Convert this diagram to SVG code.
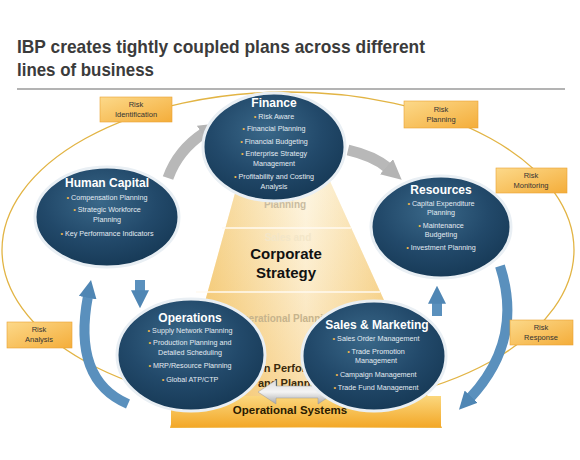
<svg xmlns="http://www.w3.org/2000/svg" width="580" height="460" viewBox="0 0 580 460">
<defs>
<radialGradient id="eg" cx="45%" cy="35%" r="65%">
<stop offset="0" stop-color="#3a6889"/>
<stop offset="0.6" stop-color="#22496a"/>
<stop offset="1" stop-color="#173a57"/>
</radialGradient>
<linearGradient id="pg" x1="0" y1="0" x2="1" y2="0">
<stop offset="0" stop-color="#f0b846"/>
<stop offset="0.5" stop-color="#fdf4dc"/>
<stop offset="1" stop-color="#f0b846"/>
</linearGradient>
<linearGradient id="pv" x1="0" y1="0" x2="0" y2="1">
<stop offset="0" stop-color="#ffffff" stop-opacity="0.25"/>
<stop offset="1" stop-color="#f0a830" stop-opacity="0.35"/>
</linearGradient>
<linearGradient id="og" x1="0" y1="0" x2="0" y2="1">
<stop offset="0" stop-color="#fbd77e"/>
<stop offset="1" stop-color="#f3a828"/>
</linearGradient>
<linearGradient id="rb" x1="0" y1="0" x2="1" y2="1">
<stop offset="0" stop-color="#fcd98a"/>
<stop offset="1" stop-color="#f4ad3a"/>
</linearGradient>
<linearGradient id="ga" x1="0" y1="0" x2="0" y2="1">
<stop offset="0" stop-color="#dcdcdc"/>
<stop offset="0.5" stop-color="#f4f4f4"/>
<stop offset="1" stop-color="#a8a8a8"/>
</linearGradient>
<marker id="hb" viewBox="0 0 10 10" refX="1" refY="5" markerWidth="18" markerHeight="18" markerUnits="userSpaceOnUse" orient="auto">
<path d="M0,0 L10,5 L0,10 z" fill="#4f86b4"/>
</marker>
<marker id="hg" viewBox="0 0 10 10" refX="1" refY="5" markerWidth="20" markerHeight="20" markerUnits="userSpaceOnUse" orient="auto">
<path d="M0,0 L10,5 L0,10 z" fill="#b4b4b4"/>
</marker>
<style>
.title{font-family:"Liberation Sans",Arial,sans-serif;font-weight:bold;font-size:19px;fill:#3b3b3b}
.node{fill:url(#eg);stroke:#e9eff4;stroke-width:3}
.nt{font-family:"Liberation Sans",Arial,sans-serif;font-weight:bold;font-size:12px;fill:#ffffff;text-anchor:middle}
.it{font-family:"Liberation Sans",Arial,sans-serif;font-size:7.2px;fill:#e3ebf2;text-anchor:middle}
.bu{fill:#f2b84b}
.rbox{fill:url(#rb);stroke:#e9a232;stroke-width:0.6}
.rt{font-family:"Liberation Sans",Arial,sans-serif;font-size:7.5px;fill:#333333;text-anchor:middle}
.band{font-family:"Liberation Sans",Arial,sans-serif;font-weight:bold;text-anchor:middle}
.bl{font-family:"Liberation Sans",Arial,sans-serif;font-weight:bold;font-size:11px;fill:#3a2a0c}
.blue{fill:none;stroke:#5a90bd;stroke-width:10}
.gray{fill:none;stroke:#b8b8b8;stroke-width:11}
</style>
</defs>
<rect width="580" height="460" fill="#ffffff"/>
<g id="title">
<text class="title" x="17" y="53" textLength="408" lengthAdjust="spacingAndGlyphs">IBP creates tightly coupled plans across different</text>
<text class="title" x="17" y="76" textLength="137" lengthAdjust="spacingAndGlyphs">lines of business</text>
<line x1="17" y1="89" x2="565" y2="89" stroke="#9a9a9a" stroke-width="1.5"/>
</g>
<g id="risk-cycle">
<ellipse cx="288" cy="250" rx="286" ry="158" fill="none" stroke="#e2b444" stroke-width="1.3"/>
</g>
<g id="pyramid">
<path d="M242,168 L324,168 L442,428 L170,428 Z" fill="url(#pg)"/>
<path d="M242,168 L324,168 L442,428 L170,428 Z" fill="url(#pv)"/>
<line x1="222" y1="228" x2="351" y2="228" stroke="#fffaf0" stroke-width="1.5"/>
<line x1="196" y1="292" x2="380" y2="292" stroke="#fffaf0" stroke-width="1.5"/>
<text class="band" x="285" y="208" font-size="10" fill="#c9bba0">Planning</text>
<text class="band" x="288" y="241" font-size="10" fill="#f3e6c8">Sales and</text>
<text class="band" x="286" y="259" font-size="15" fill="#111111">Corporate</text>
<text class="band" x="286" y="278" font-size="15" fill="#111111">Strategy</text>
<text class="band" x="285" y="322" font-size="10" fill="#c6b38c">Operational Planning</text>
<text class="bl" x="218" y="372">Execution Performance</text>
<text class="bl" x="258" y="387">and Planning</text>
<rect x="171" y="396" width="270" height="31" fill="url(#og)"/>
<text class="band" x="290" y="414" font-size="11.5" fill="#2a1a00">Operational Systems</text>
</g>
<g id="connectors">
<path d="M258,392 L276,380 L276,386 L318,386 L318,380 L336,392 L318,404 L318,398 L276,398 L276,404 Z" fill="url(#ga)" stroke="#999999" stroke-width="0.5"/>
<path class="gray" d="M168,178 Q178,150 204,133" marker-end="url(#hg)"/>
<path class="gray" d="M348,150 Q374,156 388,168" marker-end="url(#hg)"/>
<path class="blue" d="M128,404 Q72,380 88,296" marker-end="url(#hb)"/>
<path class="blue" d="M500,266 Q524,340 470,398" marker-end="url(#hb)"/>
<path class="blue" d="M140,280 L140,292" marker-end="url(#hb)"/>
<path class="blue" d="M437,316 L437,302" marker-end="url(#hb)"/>
</g>
<g id="finance">
<ellipse class="node" cx="274" cy="147" rx="71" ry="54"/>
<text class="nt" x="274" y="107">Finance</text>
<text class="it" x="274" y="119"><tspan class="bu">•  </tspan>Risk Aware</text>
<text class="it" x="274" y="131"><tspan class="bu">•  </tspan>Financial Planning</text>
<text class="it" x="274" y="144"><tspan class="bu">•  </tspan>Financial Budgeting</text>
<text class="it" x="274" y="156"><tspan class="bu">•  </tspan>Enterprise Strategy</text>
<text class="it" x="274" y="166">Management</text>
<text class="it" x="274" y="179"><tspan class="bu">•  </tspan>Profitability and Costing</text>
<text class="it" x="274" y="189">Analysis</text>
</g>
<g id="human-capital">
<ellipse class="node" cx="107" cy="217" rx="72" ry="50"/>
<text class="nt" x="107" y="187">Human Capital</text>
<text class="it" x="107" y="200"><tspan class="bu">•  </tspan>Compensation Planning</text>
<text class="it" x="107" y="212"><tspan class="bu">•  </tspan>Strategic Workforce</text>
<text class="it" x="107" y="222">Planning</text>
<text class="it" x="107" y="236"><tspan class="bu">•  </tspan>Key Performance Indicators</text>
</g>
<g id="resources">
<ellipse class="node" cx="441" cy="227" rx="70" ry="51"/>
<text class="nt" x="441" y="194">Resources</text>
<text class="it" x="441" y="206"><tspan class="bu">•  </tspan>Capital Expenditure</text>
<text class="it" x="441" y="215">Planning</text>
<text class="it" x="441" y="228"><tspan class="bu">•  </tspan>Maintenance</text>
<text class="it" x="441" y="237">Budgeting</text>
<text class="it" x="441" y="250"><tspan class="bu">•  </tspan>Investment Planning</text>
</g>
<g id="operations">
<ellipse class="node" cx="191" cy="355" rx="74" ry="56"/>
<text class="nt" x="190" y="322">Operations</text>
<text class="it" x="190" y="333"><tspan class="bu">•  </tspan>Supply Network Planning</text>
<text class="it" x="190" y="345"><tspan class="bu">•  </tspan>Production Planning and</text>
<text class="it" x="190" y="355">Detailed Scheduling</text>
<text class="it" x="190" y="368"><tspan class="bu">•  </tspan>MRP/Resource Planning</text>
<text class="it" x="190" y="382"><tspan class="bu">•  </tspan>Global ATP/CTP</text>
</g>
<g id="sales-marketing">
<ellipse class="node" cx="374" cy="356" rx="72" ry="55"/>
<text class="nt" x="377" y="329">Sales &amp; Marketing</text>
<text class="it" x="376" y="341"><tspan class="bu">•  </tspan>Sales Order Management</text>
<text class="it" x="376" y="354"><tspan class="bu">•  </tspan>Trade Promotion</text>
<text class="it" x="376" y="363">Management</text>
<text class="it" x="376" y="377"><tspan class="bu">•  </tspan>Campaign Management</text>
<text class="it" x="376" y="390"><tspan class="bu">•  </tspan>Trade Fund Management</text>
</g>
<g id="risk-identification">
<rect class="rbox" x="100" y="97" width="72" height="25"/>
<text class="rt" x="136" y="107">Risk</text>
<text class="rt" x="136" y="117">Identification</text>
</g>
<g id="risk-planning">
<rect class="rbox" x="404" y="101" width="74" height="27"/>
<text class="rt" x="441" y="112">Risk</text>
<text class="rt" x="441" y="122">Planning</text>
</g>
<g id="risk-monitoring">
<rect class="rbox" x="496" y="168" width="71" height="25"/>
<text class="rt" x="531" y="178">Risk</text>
<text class="rt" x="531" y="188">Monitoring</text>
</g>
<g id="risk-analysis">
<rect class="rbox" x="7" y="322" width="65" height="26"/>
<text class="rt" x="39" y="332">Risk</text>
<text class="rt" x="39" y="342">Analysis</text>
</g>
<g id="risk-response">
<rect class="rbox" x="510" y="320" width="63" height="25"/>
<text class="rt" x="541" y="330">Risk</text>
<text class="rt" x="541" y="340">Response</text>
</g>
</svg>
